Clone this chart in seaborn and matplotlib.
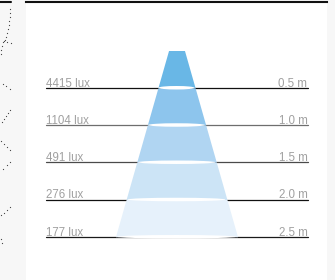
import numpy as np
import pandas as pd
import seaborn as sns
import matplotlib
matplotlib.use("Agg")
import matplotlib.pyplot as plt
from matplotlib.patches import Ellipse

# Data
distances = [0.5, 1.0, 1.5, 2.0, 2.5]
lux = [4415, 1104, 491, 276, 177]
dist_labels = ["0.5 m", "1.0 m", "1.5 m", "2.0 m", "2.5 m"]
lux_labels = [f"{v} lux" for v in lux]

cone_colors = ["#69b7e6", "#8dc5ed", "#b0d5f2", "#cce4f6", "#e6f1fb"]
line_colors = ["#111111", "#6e6e6e", "#4a4a4a", "#111111", "#1a1a1a"]

# beam geometry (metres): lens half width and spread per metre
lens_half = 0.107
spread = 0.285

# cut-off dotted lines in the left strip (pixels)
edge_dots_x = [10, 10, 9.5, 9, 8.5, 8, 7, 6, 5, 3, 2, 1, 0.5, 4, 7, 11,
               3, 6, 10, 10, 8, 6, 4, 2, 1, 4, 7, 10, 10, 7, 3, 10, 7, 4, 1, 1, 2]
edge_dots_y = [9, 13, 17, 21, 25, 29, 33, 37, 40, 42, 46, 50, 54, 41, 42, 43,
               84, 86, 89, 110, 113, 116, 119, 122, 141, 144, 147, 150, 162, 165, 169,
               207, 210, 213, 215, 239, 243]

sns.set_theme(style="white")
plt.rcParams['font.family'] = ['Liberation Sans', 'DejaVu Sans']

W, H = 335, 280
PX = 74.5      # pixels per metre
cx = 176.5     # beam centre (px)
top_px = 50.5  # pixel row of 0 m

fig = plt.figure(figsize=(W / 100, H / 100), dpi=100, facecolor="#f7f7f7")

# left strip with the cut-off neighbour
ax2 = fig.add_axes([0, 0, 12 / W, 1])
ax2.set_facecolor("white")
ax2.set_xlim(0, 12)
ax2.set_ylim(H, 0)
ax2.plot([0, 11], [2, 2], color="#111111", lw=1.5)
ax2.scatter(edge_dots_x, edge_dots_y, s=0.8, color="#444444", linewidths=0)
ax2.axis("off")

# main panel
ax = fig.add_axes([26 / W, 0, 301 / W, 278 / H])
ax.set_facecolor("white")
ax.set_xlim((26 - cx) / PX, (327 - cx) / PX)
ax.set_ylim((H - top_px) / PX, (2 - top_px) / PX)

span = (307 - 45) / 2 / PX
rows = []
for d, lab in zip(distances, dist_labels):
    rows.append({"x": -span, "d": d, "lab": lab})
    rows.append({"x": span, "d": d, "lab": lab})
lines = pd.DataFrame(rows)
sns.lineplot(data=lines, x="x", y="d", hue="lab", units="lab", estimator=None,
             palette=dict(zip(dist_labels, line_colors)), legend=False,
             linewidth=0.9, sort=False, ax=ax, zorder=2)

def half_width(d):
    return lens_half + spread * np.asarray(d)

starts = [0.0] + distances[:-1]
for i, (d0, d1) in enumerate(zip(starts, distances)):
    ys = np.array([d0, d1])
    ax.fill_betweenx(ys, -half_width(ys), half_width(ys), color=cone_colors[i],
                     lw=0, zorder=3)

for d in distances:
    ax.add_patch(Ellipse((0, d), 2 * half_width(d) * 0.97, 3.5 / PX,
                         color="white", lw=0, zorder=4))

for d, ll, dl in zip(distances, lux_labels, dist_labels):
    ax.text(-span, d - 1.0 / PX, ll, ha="left", va="baseline",
            fontsize=8.3, color="#a0a0a0", zorder=5)
    ax.text(span, d - 1.0 / PX, dl, ha="right", va="baseline",
            fontsize=8.3, color="#a0a0a0", zorder=5)

ax.set_xlabel("")
ax.set_ylabel("")
ax.set_xticks([])
ax.set_yticks([])
for s in ["left", "right", "bottom"]:
    ax.spines[s].set_visible(False)
ax.spines["top"].set_color("#111111")
ax.spines["top"].set_linewidth(1.5)

fig.savefig("out.png", dpi=100, facecolor=fig.get_facecolor())
